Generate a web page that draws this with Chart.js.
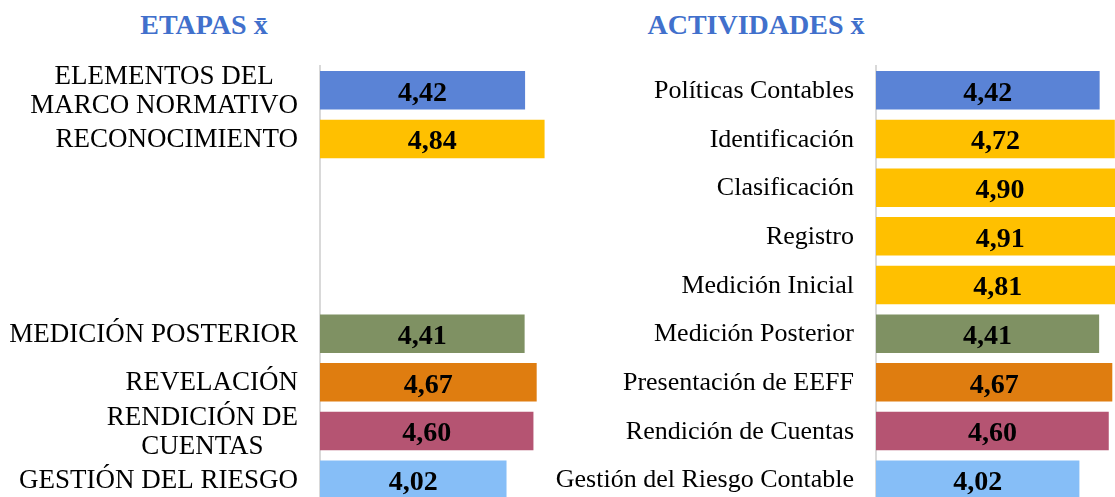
<!DOCTYPE html>
<html lang="es">
<head>
<meta charset="utf-8">
<title>Etapas y actividades</title>
<script src="https://cdn.jsdelivr.net/npm/chart.js@4.4.1/dist/chart.umd.min.js"></script>
<style>
  html, body {
    margin: 0;
    width: 1115px;
    height: 497px;
    overflow: hidden;
    background: #fff;
  }
  .chart-title {
    position: absolute;
    top: 9px;
    margin: 0;
    font: bold 28px "Liberation Serif", "Times New Roman", serif;
    color: #4170CC;
    white-space: nowrap;
    transform: translateX(-50%);
  }
  canvas {
    position: absolute;
    top: 0;
  }
</style>
</head>
<body>
<h2 class="chart-title" style="left:204px">ETAPAS x&#772;</h2>
<h2 class="chart-title" style="left:756px">ACTIVIDADES x&#772;</h2>
<canvas id="etapas" width="552" height="504" style="left:0"></canvas>
<canvas id="actividades" width="573" height="504" style="left:556px"></canvas>

<script>
// stage averages (rows 3-5 stay empty so both charts line up)
const etapaLabels = [
  ["ELEMENTOS DEL", "MARCO NORMATIVO"],
  "RECONOCIMIENTO",
  "",
  "",
  "",
  "MEDICIÓN POSTERIOR",
  "REVELACIÓN",
  ["RENDICIÓN DE", "CUENTAS"],
  "GESTIÓN DEL RIESGO",
];
const etapaValues = [4.42, 4.84, null, null, null, 4.41, 4.67, 4.60, 4.02];

// activity averages
const actividadLabels = [
  "Políticas Contables",
  "Identificación",
  "Clasificación",
  "Registro",
  "Medición Inicial",
  "Medición Posterior",
  "Presentación de EEFF",
  "Rendición de Cuentas",
  "Gestión del Riesgo Contable",
];
const actividadValues = [4.42, 4.72, 4.90, 4.91, 4.81, 4.41, 4.67, 4.60, 4.02];

const BLUE = "#5A83D6";
const GOLD = "#FFC000";
const GREEN = "#7F9163";
const ORANGE = "#DF7D10";
const ROSE = "#B55472";
const SKY = "#86BEF7";

const etapaColors = [BLUE, GOLD, GOLD, GOLD, GOLD, GREEN, ORANGE, ROSE, SKY];
const actividadColors = [BLUE, GOLD, GOLD, GOLD, GOLD, GREEN, ORANGE, ROSE, SKY];

// category names drawn right of the label column, multi-line ones centred on each other
const categoryLabels = {
  id: "categoryLabels",
  afterDraw(chart, args, opts) {
    const { ctx } = chart;
    const y = chart.scales.y;
    ctx.save();
    ctx.font = opts.font;
    ctx.fillStyle = "#000";
    ctx.textAlign = "center";
    ctx.textBaseline = "middle";
    chart.data.labels.forEach((label, i) => {
      const lines = [].concat(label);
      const w = Math.max(...lines.map((l) => ctx.measureText(l).width));
      const cx = y.right - opts.gap - w / 2;
      const cy = y.getPixelForValue(i);
      lines.forEach((l, k) => {
        ctx.fillText(l, cx, cy + (k - (lines.length - 1) / 2) * opts.lineHeight + 1);
      });
    });
    ctx.restore();
  },
};

// mean value written in the middle of each bar
const valueLabels = {
  id: "valueLabels",
  afterDatasetsDraw(chart) {
    const { ctx } = chart;
    const values = chart.data.datasets[0].data;
    ctx.save();
    ctx.font = "bold 28px 'Liberation Serif', 'Times New Roman', serif";
    ctx.fillStyle = "#000";
    ctx.textAlign = "center";
    ctx.textBaseline = "middle";
    chart.getDatasetMeta(0).data.forEach((bar, i) => {
      const v = values[i];
      if (v == null) return;
      ctx.fillText(v.toFixed(2).replace(".", ","), (bar.x + bar.base) / 2, bar.y + 3);
    });
    ctx.restore();
  },
};

const makeChart = (id, labels, values, colors, labelFont) =>
  new Chart(document.getElementById(id), {
    type: "bar",
    data: {
      labels: labels,
      datasets: [
        {
          data: values,
          backgroundColor: colors,
          borderWidth: 0,
          categoryPercentage: 1,
          barPercentage: 0.79,
        },
      ],
    },
    options: {
      indexAxis: "y",
      responsive: false,
      animation: false,
      devicePixelRatio: 1,
      layout: { padding: { top: 66, right: 0, bottom: 0, left: 0 } },
      scales: {
        x: { display: false, min: 0, max: 5 },
        y: {
          grid: { display: false },
          border: { display: true, color: "#D9D9D9", width: 2 },
          ticks: { display: false },
          afterFit: (scale) => {
            scale.width = 320;
          },
        },
      },
      plugins: {
        legend: { display: false },
        tooltip: { enabled: false },
        categoryLabels: {
          font: labelFont,
          gap: 22,
          lineHeight: 29,
        },
      },
    },
    plugins: [categoryLabels, valueLabels],
  });

makeChart("etapas", etapaLabels, etapaValues, etapaColors, "27px 'Liberation Serif', 'Times New Roman', serif");
makeChart("actividades", actividadLabels, actividadValues, actividadColors, "26px 'Liberation Serif', 'Times New Roman', serif");
</script>
</body>
</html>
